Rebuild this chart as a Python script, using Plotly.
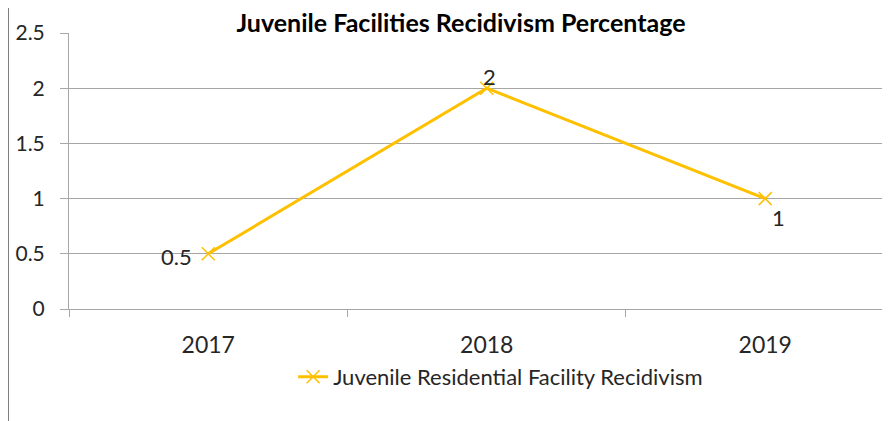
import plotly.graph_objects as go

years = ["2017", "2018", "2019"]
values = [0.5, 2, 1]
labels = ["0.5", "2", "1"]
series_name = "Juvenile Residential Facility Recidivism"
title = "Juvenile Facilities Recidivism Percentage"

GOLD = "#FFC000"
GRID = "#A6A6A6"
FONT = "Lato"

# label placement (style only): anchor + pixel shifts per point
lab_style = [
    dict(xanchor="right", yanchor="middle", xshift=-14, yshift=-3),
    dict(xanchor="center", yanchor="bottom", xshift=3, yshift=-4),
    dict(xanchor="left", yanchor="top", xshift=5, yshift=-3),
]

fig = go.Figure()
fig.add_trace(go.Scatter(
    x=years, y=values, mode="lines+markers", name=series_name,
    line=dict(color=GOLD, width=3),
    marker=dict(symbol="x-thin", size=13, line=dict(color=GOLD, width=1.5), color=GOLD),
    cliponaxis=False,
))

for i, (yv, t, st) in enumerate(zip(values, labels, lab_style)):
    fig.add_annotation(x=i, y=yv, xref="x", yref="y", text=t, showarrow=False,
                       font=dict(family=FONT, size=22, color="#262626"), **st)

fig.update_layout(
    width=882, height=413,
    margin=dict(l=61, r=0, t=25, b=112),
    paper_bgcolor="white", plot_bgcolor="white",
    font=dict(family=FONT, color="#262626"),
    title=dict(text="<b>" + title + "</b>", x=453 / 882, xanchor="center",
               y=1 - 15 / 413, yanchor="middle",
               font=dict(family=FONT, size=25, color="#000000")),
    showlegend=True,
    legend=dict(orientation="h", x=0.273, xanchor="left", y=-0.246, yanchor="middle",
                font=dict(family=FONT, size=22, color="#262626"),
                bgcolor="rgba(0,0,0,0)"),
    shapes=[dict(type="line", xref="paper", yref="paper",
                 x0=-60.5 / 821, x1=-60.5 / 821, y0=-0.5, y1=1.2,
                 line=dict(color="#7F7F7F", width=1))],
)

fig.update_xaxes(
    type="category", range=[-0.5, 2.448], tickson="boundaries",
    ticks="outside", ticklen=7, tickcolor=GRID, tickwidth=1,
    showgrid=False, showline=True, linecolor=GRID, linewidth=1,
    tickfont=dict(family=FONT, size=23, color="#262626"),
    ticklabelstandoff=15,
)
fig.update_yaxes(
    range=[0, 2.5], dtick=0.5, tick0=0,
    ticks="outside", ticklen=8, tickcolor=GRID, tickwidth=1,
    showgrid=True, gridcolor=GRID, gridwidth=1,
    showline=True, linecolor=GRID, linewidth=1, zeroline=False,
    tickfont=dict(family=FONT, size=21, color="#262626"),
    ticklabelstandoff=11,
)

fig.write_html("out.html")
